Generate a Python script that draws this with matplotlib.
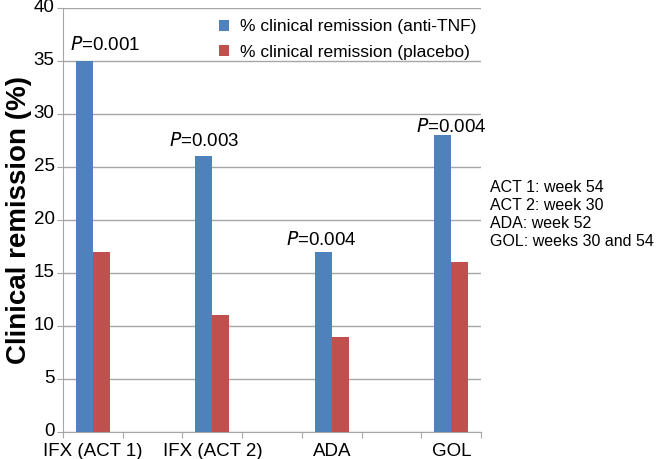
import numpy as np
import matplotlib.pyplot as plt
from matplotlib.transforms import ScaledTranslation

plt.rcParams['font.family'] = ['Liberation Sans', 'DejaVu Sans']

# Категорії (порожні місця між групами, як в оригіналі)
categories = ['IFX (ACT 1)', '', 'IFX (ACT 2)', '', 'ADA', '', 'GOL']
anti_tnf = [35, 0, 26, 0, 17, 0, 28]
placebo = [17, 0, 11, 0, 9, 0, 16]
p_labels = ['0.001', None, '0.003', None, '0.004', None, '0.004']
# Зсув підписів P відносно центру групи
p_dx = [0.2, 0, -0.14, 0, -0.18, 0, 0.0]
p_dy = [1.0, 0, 1.0, 0, 0.6, 0, 0.3]
note_lines = ['ACT 1: week 54', 'ACT 2: week 30', 'ADA: week 52', 'GOL: weeks 30 and 54']

blue = '#4F81BD'
red = '#C0504D'
grid_c = '#A6A6A6'

fig = plt.figure(figsize=(6.6, 4.59), dpi=100)
ax = fig.add_axes([0.0955, 0.0588, 0.6335, 0.9238])

x = np.arange(len(categories))
w = 0.285
ax.bar(x - w / 2, anti_tnf, w, color=blue, label='% clinical remission (anti-TNF)', zorder=3)
ax.bar(x + w / 2, placebo, w, color=red, label='% clinical remission (placebo)', zorder=3)

for i, p in enumerate(p_labels):
    if p is None:
        continue
    ax.text(x[i] + p_dx[i], anti_tnf[i] + p_dy[i], r'$\it{P}$=' + p,
            ha='center', va='baseline', fontsize=13.5, zorder=4)

ax.set_xlim(-0.5, len(categories) - 0.5)
ax.set_ylim(0, 40)
ax.set_yticks(np.arange(0, 41, 5))
ax.tick_params(axis='y', labelsize=13.5, length=4, color=grid_c, pad=2)
ax.yaxis.grid(True, color=grid_c, linewidth=1, zorder=0)
# трохи підняти підписи осі Y, щоб "0" не налазив на підписи категорій
for lab in ax.get_yticklabels():
    lab.set_transform(lab.get_transform() + ScaledTranslation(0, 2 / 72, fig.dpi_scale_trans))

ax.set_xticks(np.arange(-0.5, len(categories), 1))
ax.set_xticklabels([])
ax.tick_params(axis='x', which='major', length=4, color=grid_c)
ax.set_xticks([0, 2, 4, 6], minor=True)
ax.set_xticklabels([categories[i] for i in [0, 2, 4, 6]], minor=True, fontsize=13.5)
ax.tick_params(axis='x', which='minor', length=0, pad=8)

for s in ['top', 'right']:
    ax.spines[s].set_visible(False)
for s in ['left', 'bottom']:
    ax.spines[s].set_color(grid_c)

ax.set_ylabel('Clinical remission (%)', fontsize=20, fontweight='bold', labelpad=1)

ax.legend(loc='upper left', bbox_to_anchor=(0.335, 1.01), frameon=False, fontsize=12.5,
          handlelength=0.6, handleheight=0.6, handletextpad=0.6, labelspacing=0.6)

fig.text(490 / 660, 1 - 180 / 459, '\n'.join(note_lines), ha='left', va='top',
         fontsize=11.5, linespacing=1.25)

fig.savefig('out.png', dpi=100)
